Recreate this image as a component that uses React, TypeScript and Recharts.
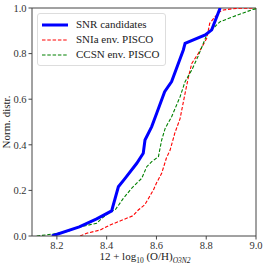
import { LineChart, Line, XAxis, YAxis, ReferenceLine } from "recharts";

// cumulative distributions
const snrX = [8.18, 8.29, 8.36, 8.42, 8.447, 8.474, 8.521, 8.547, 8.554, 8.581, 8.601, 8.633, 8.661, 8.708, 8.715, 8.796, 8.822, 8.856];
const snrY = [0, 0.04, 0.075, 0.11, 0.216, 0.253, 0.319, 0.363, 0.421, 0.48, 0.538, 0.633, 0.677, 0.816, 0.845, 0.882, 0.904, 1.0];

const snIaX = [8.293, 8.32, 8.373, 8.414, 8.447, 8.506, 8.527, 8.553, 8.588, 8.6, 8.621, 8.64, 8.655, 8.674, 8.695, 8.715, 8.729, 8.742, 8.768, 8.802, 8.814, 8.836, 8.855, 8.869, 8.908, 8.936, 9.0];
const snIaY = [0, 0.012, 0.026, 0.048, 0.063, 0.089, 0.114, 0.137, 0.202, 0.232, 0.275, 0.342, 0.377, 0.452, 0.515, 0.626, 0.699, 0.757, 0.8, 0.867, 0.933, 0.962, 0.984, 0.991, 0.997, 0.999, 1.0];

const ccX = [8.119, 8.186, 8.24, 8.286, 8.36, 8.38, 8.42, 8.434, 8.467, 8.5, 8.541, 8.561, 8.581, 8.608, 8.621, 8.635, 8.661, 8.695, 8.715, 8.742, 8.768, 8.802, 8.829, 8.841, 8.856, 8.908, 8.988, 9.0];
const ccY = [0, 0.009, 0.019, 0.038, 0.056, 0.077, 0.11, 0.114, 0.165, 0.209, 0.253, 0.304, 0.326, 0.348, 0.421, 0.472, 0.523, 0.611, 0.677, 0.728, 0.79, 0.882, 0.911, 0.925, 0.94, 0.962, 0.994, 0.996];

const xTicks = [8.2, 8.4, 8.6, 8.8, 9.0];
const yTicks = [0, 0.2, 0.4, 0.6, 0.8, 1.0];

const legendItems = [
  { label: "SNR candidates", color: "#0000ff", width: 3, dash: undefined },
  { label: "SNIa env. PISCO", color: "#ff0000", width: 1.2, dash: "3.5 1.8" },
  { label: "CCSN env. PISCO", color: "#008000", width: 1.2, dash: "3.5 1.8" },
];

const toPts = (xs: number[], ys: number[]) => xs.map((x, i) => ({ x, y: ys[i] }));

const FONT = "Liberation Serif, DejaVu Serif, Times New Roman, serif";
const AXIS = "#444";

function LegendBox() {
  return (
    <div
      style={{
        position: "absolute",
        left: 37,
        top: 13,
        border: "1px solid #ddd",
        borderRadius: 3,
        background: "rgba(255,255,255,0.9)",
        padding: "3px 6px 3px 4px",
        fontFamily: FONT,
        fontSize: 11,
        color: "#222",
        lineHeight: "15px",
      }}
    >
      {legendItems.map((it) => (
        <div key={it.label} style={{ display: "flex", alignItems: "center" }}>
          <svg width={28} height={8} style={{ marginRight: 6 }}>
            <line x1={0} y1={4} x2={26} y2={4} stroke={it.color} strokeWidth={it.width} strokeDasharray={it.dash} />
          </svg>
          <span>{it.label}</span>
        </div>
      ))}
    </div>
  );
}

export default function App() {
  const tick = { fill: "#333", fontSize: 10.5, fontFamily: FONT };
  return (
    <div style={{ position: "fixed", left: 0, top: 0, width: 266, height: 266, background: "#fff", fontFamily: FONT }}>
      <LineChart width={266} height={266} margin={{ top: 8, right: 10, bottom: 0, left: 0 }} style={{ fontFamily: FONT }}>
        <XAxis
          dataKey="x"
          type="number"
          domain={[8.1, 9.0]}
          ticks={xTicks}
          tickFormatter={(v: number) => v.toFixed(1)}
          height={30}
          allowDataOverflow
          stroke={AXIS}
          tick={tick}
          tickSize={3.5}
        />
        <YAxis
          dataKey="y"
          type="number"
          domain={[0, 1]}
          ticks={yTicks}
          tickFormatter={(v: number) => v.toFixed(1)}
          width={32}
          allowDataOverflow
          stroke={AXIS}
          tick={tick}
          tickSize={3.5}
        />
        <ReferenceLine y={1} stroke={AXIS} />
        <ReferenceLine x={9} stroke={AXIS} />
        <Line data={toPts(snIaX, snIaY)} dataKey="y" stroke="#ff0000" strokeWidth={1.1} strokeDasharray="3.5 1.8" dot={false} isAnimationActive={false} />
        <Line data={toPts(ccX, ccY)} dataKey="y" stroke="#008000" strokeWidth={1.1} strokeDasharray="3.5 1.8" dot={false} isAnimationActive={false} />
        <Line data={toPts(snrX, snrY)} dataKey="y" stroke="#0000ff" strokeWidth={3} dot={false} isAnimationActive={false} />
        <text x={145} y={260} textAnchor="middle" fontFamily={FONT} fontSize={11} fill="#222">
          12 + log
          <tspan fontSize={7.5} dy={3}>10</tspan>
          <tspan dy={-3}> (O/H)</tspan>
          <tspan fontSize={7.5} dy={3} fontStyle="italic">O3N2</tspan>
        </text>
        <text
          x={10}
          y={122}
          transform="rotate(-90 10 122)"
          textAnchor="middle"
          fontFamily={FONT}
          fontSize={11}
          fill="#222"
        >
          Norm. distr.
        </text>
      </LineChart>
      <LegendBox />
    </div>
  );
}
